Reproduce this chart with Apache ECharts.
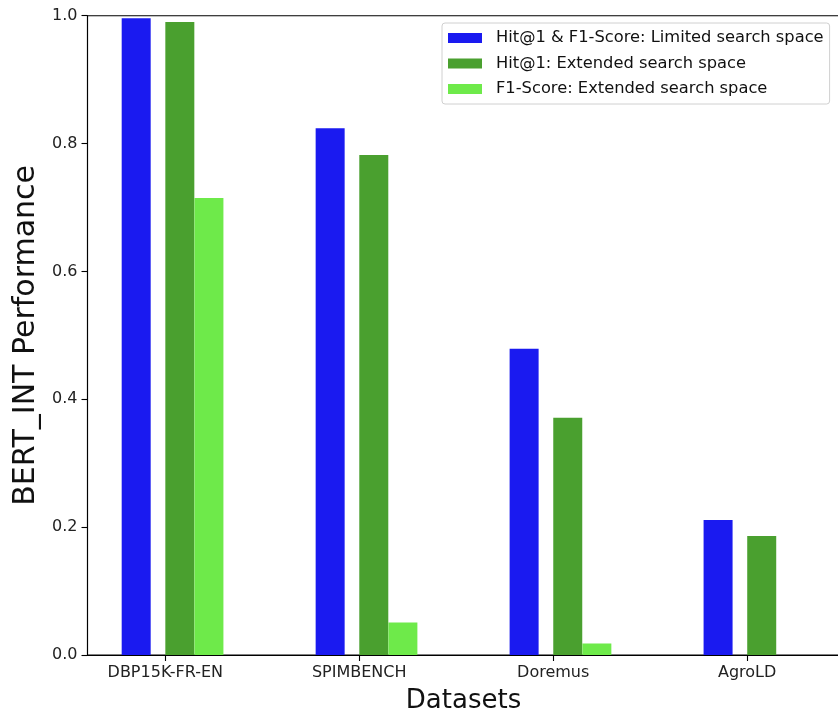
<!DOCTYPE html>
<html>
<head>
<meta charset="utf-8">
<script src="https://cdn.jsdelivr.net/npm/echarts@6/dist/echarts.min.js"></script>
<style>
html,body{margin:0;padding:0;background:#fff;}
#chart{width:838px;height:712px;}
</style>
</head>
<body>
<div id="chart"></div>
<script>
const categories = ['DBP15K-FR-EN', 'SPIMBENCH', 'Doremus', 'AgroLD'];
const seriesNames = ['Hit@1 & F1-Score: Limited search space', 'Hit@1: Extended search space', 'F1-Score: Extended search space'];
const limitedHitF1 = [0.996, 0.824, 0.479, 0.211];
const extendedHit = [0.990, 0.782, 0.371, 0.186];
const extendedF1 = [0.715, 0.051, 0.018, 0.0];
const yTicks = [0, 0.2, 0.4, 0.6, 0.8, 1.0];

const colors = ['#1a1af0', '#4aa02f', '#6eea4a'];
const offsets = [-0.15, 0.075, 0.225];
const values = [limitedHitF1, extendedHit, extendedF1];
const FONT = 'DejaVu Sans';

const chart = echarts.init(document.getElementById('chart'), null, {renderer: 'canvas'});

const series = values.map((arr, s) => ({
  name: seriesNames[s],
  type: 'bar',
  barWidth: 29,
  barGap: '-100%',
  itemStyle: {color: colors[s]},
  data: arr.map((v, i) => [i + offsets[s], v]),
  animation: false
}));

chart.setOption({
  backgroundColor: '#ffffff',
  animation: false,
  grid: {left: 87.5, top: 15.7, width: 752, height: 639.3, containLabel: false, outerBoundsMode: 'none',
         show: true, borderColor: '#000', borderWidth: 1.1, backgroundColor: 'transparent'},
  legend: {
    orient: 'vertical',
    left: 442,
    top: 23,
    data: seriesNames,
    icon: 'rect',
    itemWidth: 34,
    itemHeight: 10,
    itemGap: 9.5,
    padding: [7, 6, 7, 6],
    borderColor: '#d0d0d0',
    borderWidth: 1,
    borderRadius: 3,
    backgroundColor: 'rgba(255,255,255,0.8)',
    textStyle: {fontFamily: FONT, fontSize: 16.3, color: '#111', padding: [0, 0, 0, 9]}
  },
  xAxis: {
    type: 'value',
    min: -0.401,
    max: 3.476,
    name: 'Datasets',
    nameLocation: 'middle',
    nameGap: 33,
    nameTextStyle: {fontFamily: FONT, fontSize: 26, color: '#111'},
    axisLine: {show: true, onZero: false, lineStyle: {color: '#000', width: 1.1}},
    axisTick: {show: true, customValues: categories.map((c, i) => i), length: 6, lineStyle: {color: '#000', width: 1.1}},
    axisLabel: {
      customValues: categories.map((c, i) => i),
      formatter: v => categories[Math.round(v)],
      fontFamily: FONT, fontSize: 16, color: '#222', margin: 10
    },
    splitLine: {show: false}
  },
  yAxis: {
    type: 'value',
    min: 0,
    max: 1,
    interval: 0.2,
    name: 'BERT_INT Performance',
    nameLocation: 'middle',
    nameGap: 46,
    nameTextStyle: {fontFamily: FONT, fontSize: 30, color: '#111'},
    axisLine: {show: true, onZero: false, lineStyle: {color: '#000', width: 1.1}},
    axisTick: {show: true, length: 6, lineStyle: {color: '#000', width: 1.1}},
    axisLabel: {
      customValues: yTicks,
      formatter: v => v.toFixed(1),
      fontFamily: FONT, fontSize: 16, color: '#222', margin: 10
    },
    splitLine: {show: false}
  },
  series: series
});
</script>
</body>
</html>
